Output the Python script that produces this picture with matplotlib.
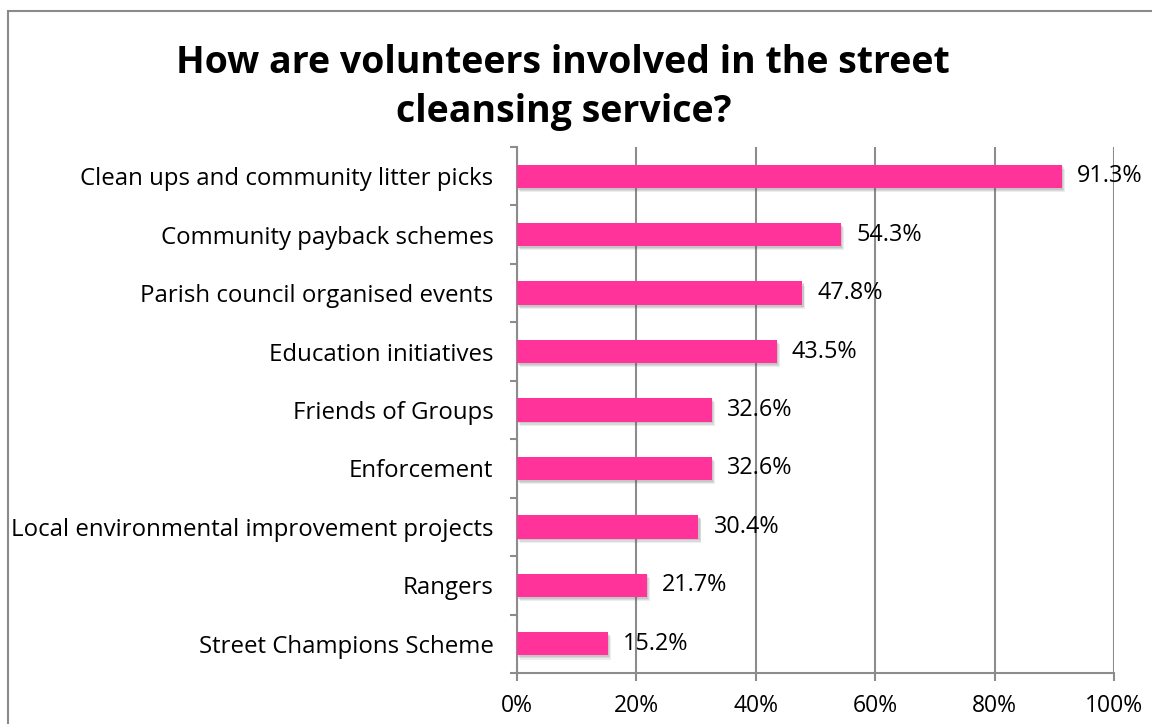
import numpy as np
import matplotlib
matplotlib.use("Agg")
import matplotlib.pyplot as plt
from matplotlib.patches import Rectangle
from matplotlib.ticker import FixedLocator, PercentFormatter

plt.rcParams['font.family'] = ['Open Sans', 'DejaVu Sans']

categories = [
    "Clean ups and community litter picks",
    "Community payback schemes",
    "Parish council organised events",
    "Education initiatives",
    "Friends of Groups",
    "Enforcement",
    "Local environmental improvement projects",
    "Rangers",
    "Street Champions Scheme",
]
shares = [91.3, 54.3, 47.8, 43.5, 32.6, 32.6, 30.4, 21.7, 15.2]
x_ticks = [0, 20, 40, 60, 80, 100]
title_lines = ["How are volunteers involved in the street", "cleansing service?"]

bar_color = "#FF3399"
grid_color = "#8C8C8C"

fig = plt.figure(figsize=(11.52, 7.24), dpi=100)
ax = fig.add_axes([0.4488, 0.0704, 0.5182, 0.7266])

y = np.arange(len(categories))[::-1]

# soft drop shadow under each bar
for dx, dy, a in [(0.5, -0.07, 0.10), (0.35, -0.05, 0.12), (0.2, -0.03, 0.15)]:
    ax.barh(y + dy, shares, height=0.4, left=dx, color="#555555", alpha=a,
            linewidth=0, zorder=2)
ax.barh(y, shares, height=0.4, color=bar_color, linewidth=0, zorder=3)

for yi, v in zip(y, shares):
    ax.annotate(f"{v:.1f}%", (v, yi), xytext=(11, 0), textcoords="offset points",
                ha="left", va="center", fontsize=16.8, zorder=4)

ax.set_xlim(0, 100)
ax.set_ylim(-0.5, len(categories) - 0.5)
ax.set_xticks(x_ticks)
ax.xaxis.set_major_formatter(PercentFormatter(decimals=0))
ax.set_yticks(y)
ax.set_yticklabels(categories)
ax.yaxis.set_minor_locator(FixedLocator(np.arange(len(categories) + 1) - 0.5))

ax.grid(axis="x", color=grid_color, linewidth=1.5, zorder=1)
ax.set_axisbelow(True)
for s in ["top", "right"]:
    ax.spines[s].set_visible(False)
for s in ["left", "bottom"]:
    ax.spines[s].set_color(grid_color)
    ax.spines[s].set_linewidth(1.5)

ax.tick_params(axis="y", which="major", length=0, pad=17, labelsize=17.3)
ax.tick_params(axis="y", which="minor", length=5, width=1.5, color=grid_color)
ax.tick_params(axis="x", which="major", length=6, width=1.5, color=grid_color,
               pad=9, labelsize=16.5)

for line, yc in zip(title_lines, [63, 112]):
    fig.text(0.489, 1 - yc / 724, line, ha="center", va="center",
             fontsize=27, fontweight="bold")

# outer chart border, running off the right and bottom edges
fig.patches.append(Rectangle((8 / 1152, -0.1), 2, 1.1 - 11 / 724,
                             transform=fig.transFigure, fill=False,
                             edgecolor="#8A8A8A", linewidth=1.5))

fig.savefig("out.png", dpi=100)
